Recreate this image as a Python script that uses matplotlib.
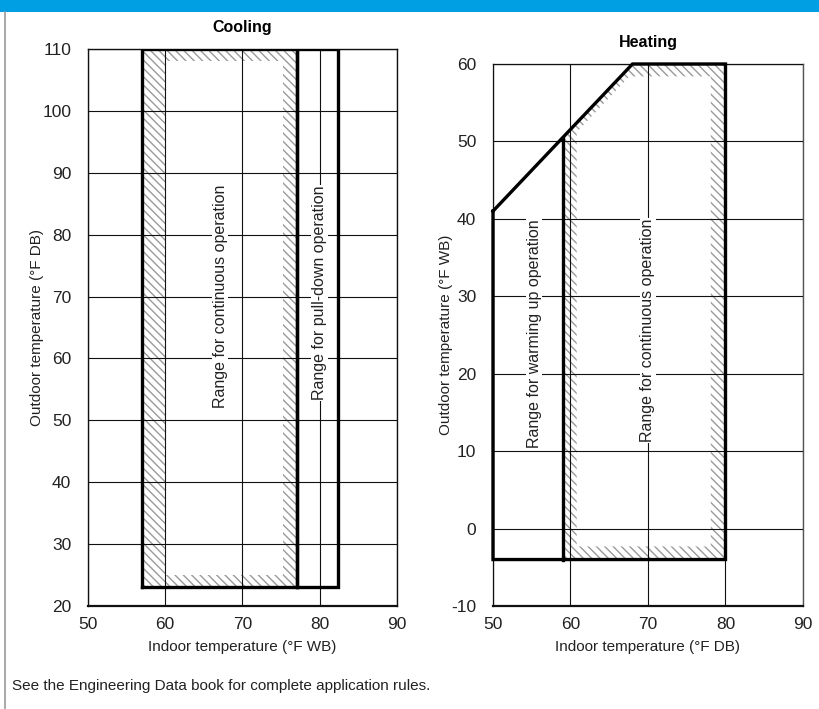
import matplotlib.pyplot as plt
from matplotlib.path import Path
from matplotlib.patches import PathPatch, Rectangle

plt.rcParams['font.family'] = ['Liberation Sans', 'DejaVu Sans']
plt.rcParams['axes.unicode_minus'] = False

# Cooling (indoor °F WB vs outdoor °F DB)
cool_cont = [57, 77, 23, 110]          # xmin, xmax, ymin, ymax
cool_cont_inner = [60, 75.2, 25, 108]  # inner edge of hatched band
cool_pull = [77, 82.4, 23, 110]

# Heating (indoor °F DB vs outdoor °F WB)
heat_env_x = [50, 68, 80, 80, 50]
heat_env_y = [41, 60, 60, -4, -4]
heat_warm_x = [59, 59]
heat_warm_y = [-4, 50.5]
heat_cont_x = [59, 80, 80, 68, 59]
heat_cont_y = [-4, -4, 60, 60, 50.5]
heat_inner_x = [60.8, 78.1, 78.1, 67.6, 60.8]
heat_inner_y = [-2.3, -2.3, 58.4, 58.4, 51.2]

xticks = [50, 60, 70, 80, 90]
cool_yticks = [20, 30, 40, 50, 60, 70, 80, 90, 100, 110]
heat_yticks = [-10, 0, 10, 20, 30, 40, 50, 60]

HATCH = '#9a9a9a'
FS = 11


def ring(ox, oy, ix, iy):
    # outer polygon with the inner one cut out (reversed winding)
    verts = list(zip(ox, oy)) + [(ox[0], oy[0])]
    inner = list(zip(ix, iy))[::-1]
    verts += inner + [inner[0]]
    codes = ([Path.MOVETO] + [Path.LINETO] * (len(ox) - 1) + [Path.CLOSEPOLY]
             + [Path.MOVETO] + [Path.LINETO] * (len(ix) - 1) + [Path.CLOSEPOLY])
    return Path(verts, codes)


def rect_xy(r):
    return [r[0], r[1], r[1], r[0]], [r[2], r[2], r[3], r[3]]


def style_axes(ax, yticks, ylabel, xlabel, title, spine_col):
    ax.set_xlim(50, 90)
    ax.set_ylim(yticks[0], yticks[-1])
    ax.set_xticks(xticks)
    ax.set_yticks(yticks)
    ax.tick_params(length=0, labelsize=12.5, colors='#222222')
    ax.tick_params(axis='y', pad=12)
    ax.tick_params(axis='x', pad=8)
    ax.grid(True, color='#111111', linewidth=0.8)
    ax.set_axisbelow(False)
    for s in ax.spines.values():
        s.set_color(spine_col)
        s.set_linewidth(1.0)
    ax.spines['bottom'].set_color('#111111')
    ax.spines['bottom'].set_linewidth(1.6)
    ax.set_ylabel(ylabel, fontsize=FS, color='#222222', labelpad=-1)
    ax.set_xlabel(xlabel, fontsize=FS, color='#222222', labelpad=6)
    ax.set_title(title, fontsize=11.5, fontweight='bold', pad=12)


def vlabel(ax, x, y, s):
    ax.text(x, y, s, rotation=90, ha='center', va='center', fontsize=11.5,
            color='#222222', zorder=5,
            bbox=dict(facecolor='white', edgecolor='none', pad=0.6))


fig = plt.figure(figsize=(8.2, 7.09), dpi=100)

# header band and page frame
fig.patches.append(Rectangle((0, 1 - 12 / 709), 1, 12 / 709, transform=fig.transFigure,
                             facecolor='#009fe3', edgecolor='none'))
fig.lines.append(plt.Line2D([5 / 820, 5 / 820], [0, 1 - 12 / 709], transform=fig.transFigure,
                            color='#9a9a9a', linewidth=1.2))

# ---- Cooling ----
ax1 = fig.add_axes([88 / 820, 1 - 606 / 709, 309 / 820, 557 / 709])
style_axes(ax1, cool_yticks, 'Outdoor temperature (°F DB)', 'Indoor temperature (°F WB)',
           'Cooling', '#111111')
ox, oy = rect_xy(cool_cont)
ix, iy = rect_xy(cool_cont_inner)
ax1.add_patch(PathPatch(ring(ox, oy, ix, iy), facecolor='none', edgecolor=HATCH,
                        linewidth=0, hatch='\\\\\\\\', zorder=1))
for r in (cool_cont, cool_pull):
    px, py = rect_xy(r)
    ax1.plot(px + [px[0]], py + [py[0]], color='black', linewidth=2.4, zorder=4,
             solid_joinstyle='miter')
vlabel(ax1, 67.1, 70.1, 'Range for continuous operation')
vlabel(ax1, 80, 70.6, 'Range for pull-down operation')

# ---- Heating ----
ax2 = fig.add_axes([493 / 820, 1 - 606 / 709, 310 / 820, 542 / 709])
style_axes(ax2, heat_yticks, 'Outdoor temperature (°F WB)', 'Indoor temperature (°F DB)',
           'Heating', '#555555')
ax2.add_patch(PathPatch(ring(heat_cont_x, heat_cont_y, heat_inner_x, heat_inner_y),
                        facecolor='none', edgecolor=HATCH, linewidth=0,
                        hatch='\\\\\\\\', zorder=1))
ax2.plot(heat_env_x + [heat_env_x[0]], heat_env_y + [heat_env_y[0]], color='black',
         linewidth=2.4, zorder=4, solid_joinstyle='miter', clip_on=False)
ax2.plot(heat_warm_x, heat_warm_y, color='black', linewidth=2.4, zorder=4)
vlabel(ax2, 55.3, 25.2, 'Range for warming up operation')
vlabel(ax2, 70, 25.6, 'Range for continuous operation')

fig.text(12 / 820, 1 - 686 / 709, 'See the Engineering Data book for complete application rules.',
         fontsize=FS, color='#222222', va='center', ha='left')

fig.savefig('out.png', dpi=100)
